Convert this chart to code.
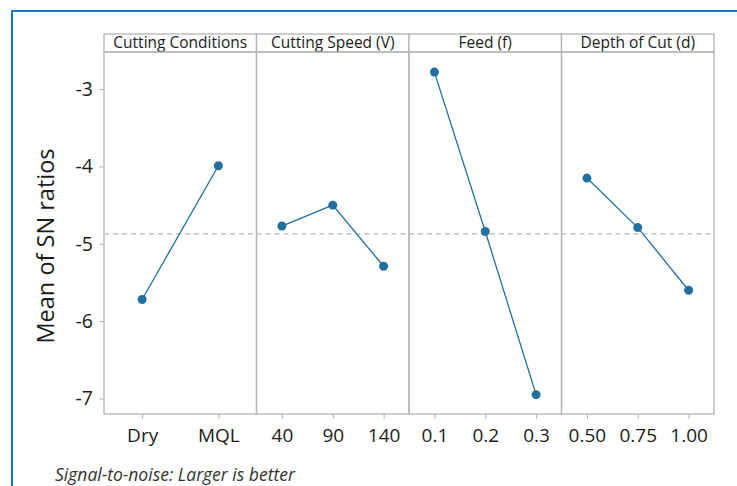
<!DOCTYPE html>
<html>
<head>
<meta charset="utf-8">
<script src="https://cdn.jsdelivr.net/npm/d3@7"></script>
<style>
  body { margin: 0; background: #fff; }
  svg { font-family: 'Open Sans', 'Noto Sans', sans-serif; display: block; }
</style>
</head>
<body>
<div id="chart"></div>
<script>
// main effects plot for SN ratios
const factors = ['Cutting Conditions', 'Cutting Speed (V)', 'Feed (f)', 'Depth of Cut (d)']
const levels = [
  ['Dry', 'MQL'],
  ['40', '90', '140'],
  ['0.1', '0.2', '0.3'],
  ['0.50', '0.75', '1.00']
]
const snMeans = [
  [-5.72, -3.99],
  [-4.77, -4.5, -5.29],
  [-2.78, -4.84, -6.95],
  [-4.15, -4.79, -5.6]
]
const overallMean = -4.87
const yTicks = [-3, -4, -5, -6, -7]

const width = 737
const height = 486
const margin = { top: 52, left: 104, right: 23, bottom: 72 }
const headerHeight = 18

const svg = d3
  .select('#chart')
  .append('svg')
  .attr('width', width)
  .attr('height', height)

// blue frame around the figure
svg
  .append('rect')
  .attr('x', 12)
  .attr('y', 11)
  .attr('width', 760)
  .attr('height', 520)
  .attr('fill', 'none')
  .attr('stroke', '#1a78c8')
  .attr('stroke-width', 2)

const panelScale = d3
  .scaleBand()
  .domain(factors)
  .range([margin.left, width - margin.right])
  .padding(0)

const yPositionScale = d3
  .scaleLinear()
  .domain([-7.2, -2.52])
  .range([height - margin.bottom, margin.top])

const panelBottom = height - margin.bottom
const lineColor = '#23709d'
const gridGrey = '#b4b4b4'
const textColor = '#1c1c1c'

// panels
factors.forEach(function(factor, i) {
  const x0 = panelScale(factor)
  const w = panelScale.bandwidth()
  const g = svg.append('g').attr('class', 'panel')

  const xPositionScale = d3
    .scalePoint()
    .domain(levels[i])
    .range([x0, x0 + w])
    .padding(0.5)

  // header strip
  g.append('rect')
    .attr('x', x0)
    .attr('y', margin.top - headerHeight)
    .attr('width', w)
    .attr('height', headerHeight)
    .attr('fill', '#fff')
    .attr('stroke', gridGrey)
    .attr('stroke-width', 1.3)

  g.append('text')
    .attr('x', x0 + w / 2)
    .attr('y', margin.top - 4)
    .attr('text-anchor', 'middle')
    .attr('font-size', 15.5)
    .attr('fill', textColor)
    .text(factor)

  // panel box
  g.append('rect')
    .attr('x', x0)
    .attr('y', margin.top)
    .attr('width', w)
    .attr('height', panelBottom - margin.top)
    .attr('fill', 'none')
    .attr('stroke', gridGrey)
    .attr('stroke-width', 1.3)

  // reference line at overall mean
  g.append('line')
    .attr('x1', x0)
    .attr('x2', x0 + w)
    .attr('y1', yPositionScale(overallMean))
    .attr('y2', yPositionScale(overallMean))
    .attr('stroke', '#c4c4c4')
    .attr('stroke-width', 1.5)
    .attr('stroke-dasharray', '5,4')

  const points = levels[i].map(function(lv, j) {
    return { level: lv, value: snMeans[i][j] }
  })

  const line = d3
    .line()
    .x(d => xPositionScale(d.level))
    .y(d => yPositionScale(d.value))

  g.append('path')
    .datum(points)
    .attr('d', line)
    .attr('fill', 'none')
    .attr('stroke', lineColor)
    .attr('stroke-width', 1.3)

  g.selectAll('circle')
    .data(points)
    .enter()
    .append('circle')
    .attr('cx', d => xPositionScale(d.level))
    .attr('cy', d => yPositionScale(d.value))
    .attr('r', 4.5)
    .attr('fill', lineColor)

  const xAxis = d3
    .axisBottom(xPositionScale)
    .tickSize(5)
    .tickPadding(10)

  const ax = g
    .append('g')
    .attr('class', 'axis x-axis')
    .attr('transform', 'translate(0,' + panelBottom + ')')
    .call(xAxis)
  ax.select('.domain').remove()
  ax.selectAll('line').attr('stroke', gridGrey)
  ax.selectAll('text')
    .attr('font-size', 19)
    .attr('font-family', "'Open Sans', sans-serif")
    .attr('fill', textColor)
})

// y axis
const yAxis = d3
  .axisLeft(yPositionScale)
  .tickValues(yTicks)
  .tickFormat(d => String(d))
  .tickSize(5)
  .tickPadding(6)

const yAx = svg
  .append('g')
  .attr('class', 'axis y-axis')
  .attr('transform', 'translate(' + margin.left + ',0)')
  .call(yAxis)
yAx.select('.domain').remove()
yAx.selectAll('line').attr('stroke', gridGrey)
yAx.selectAll('text')
  .attr('font-size', 19.5)
  .attr('font-family', "'Open Sans', sans-serif")
  .attr('fill', textColor)

svg
  .append('text')
  .attr('transform', 'translate(54,' + 246 + ') rotate(-90)')
  .attr('text-anchor', 'middle')
  .attr('font-size', 23.5)
  .attr('fill', textColor)
  .text('Mean of SN ratios')

svg
  .append('text')
  .attr('x', 55)
  .attr('y', 481)
  .attr('font-size', 17.5)
  .attr('font-style', 'italic')
  .attr('fill', '#333')
  .text('Signal-to-noise: Larger is better')
</script>
</body>
</html>
